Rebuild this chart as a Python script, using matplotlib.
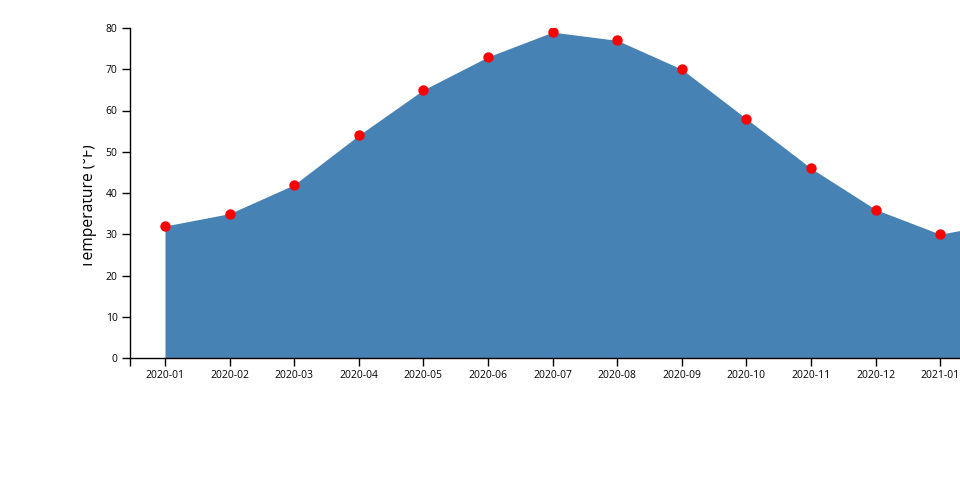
import matplotlib
matplotlib.use("Agg")
import matplotlib.pyplot as plt
from matplotlib.transforms import Bbox

plt.rcParams['font.family'] = ['Open Sans', 'DejaVu Sans']

months = ['2020-01', '2020-02', '2020-03', '2020-04', '2020-05', '2020-06', '2020-07',
          '2020-08', '2020-09', '2020-10', '2020-11', '2020-12', '2021-01', '2021-02']
temps = [32, 35, 42, 54, 65, 73, 79, 77, 70, 58, 46, 36, 30, 33]
shown = 13  # labels drawn on axis

x = list(range(len(months)))

fig = plt.figure(figsize=(9.6, 5), dpi=100)
# axes runs off the right edge of the canvas like the original
ax = fig.add_axes([130 / 960, 142 / 500, 830 / 960, 330 / 500])

ax.fill_between(x, temps, 0, color='#4682b4', linewidth=0, clip_on=True)
ax.scatter(x, temps, s=56, color='red', zorder=3, linewidths=0, clip_on=True)

ax.set_xlim(-35 / 64.6, 795 / 64.6)
ax.set_ylim(0, 80)

ax.set_xticks(x[:shown])
ax.set_xticklabels(months[:shown])
ax.set_xticks([-35 / 64.6], minor=True)
ax.set_yticks(range(0, 81, 10))

ax.tick_params(axis='both', labelsize=7.5, length=6, width=1, color='black', pad=3)
ax.tick_params(axis='x', which='minor', length=6, width=1)
for s in ['top', 'right']:
    ax.spines[s].set_visible(False)
for s in ['left', 'bottom']:
    ax.spines[s].set_linewidth(1)

# label is cut off at its top in the original
lab = fig.text(93 / 960, 1 - 206 / 500, 'Temperature (°F)', rotation=90,
               rotation_mode='anchor', ha='center', va='baseline', fontsize=11.25)
lab.set_clip_box(Bbox([[82.5, 0], [960, 500]]))
lab.set_clip_on(True)

fig.savefig('out.png', dpi=100)
